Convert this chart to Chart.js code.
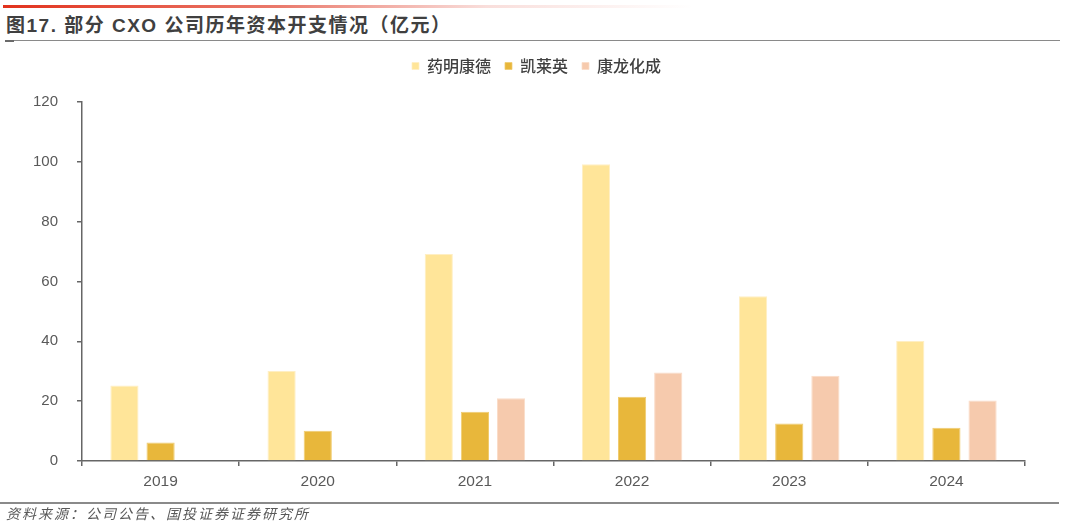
<!DOCTYPE html>
<html>
<head>
<meta charset="utf-8">
<script src="https://cdn.jsdelivr.net/npm/chart.js@4.4.1/dist/chart.umd.min.js"></script>
<style>
  html,body{margin:0;padding:0;background:#fff;}
  body{width:1067px;height:525px;position:relative;overflow:hidden;font-family:"Liberation Sans","Noto Sans CJK SC",sans-serif;}
  #redbar{position:absolute;left:3px;top:5px;width:690px;height:3px;background:linear-gradient(to right,#E2321D 0%,#EA7A6C 40%,rgba(245,200,195,0.6) 70%,rgba(255,255,255,0) 100%);}
  #title{position:absolute;left:6px;top:15px;font-size:19px;letter-spacing:1.5px;font-weight:bold;color:#404040;font-family:"Liberation Sans","Noto Sans CJK SC",sans-serif;white-space:nowrap;line-height:22px;}
  #titleline{position:absolute;left:5px;top:39.5px;width:1055px;height:1.5px;background:#8a8a8a;}
  #titlemark{position:absolute;left:5px;top:40px;width:9px;height:2px;background:#6a6a6a;}
  #footline{position:absolute;left:0px;top:502px;width:1059px;height:2px;background:#8a8a8a;}
  #foot{position:absolute;left:6px;top:503px;font-size:14px;letter-spacing:2px;font-style:italic;color:#595959;font-family:"Noto Sans CJK SC",sans-serif;white-space:nowrap;line-height:20px;}
  #wrap{position:absolute;left:0;top:0;width:1067px;height:525px;}
</style>
</head>
<body>
<div id="redbar"></div>
<div id="title">图17. 部分 CXO 公司历年资本开支情况（亿元）</div>
<div id="titleline"></div>
<div id="titlemark"></div>
<div id="wrap"><canvas id="c" width="1067" height="525"></canvas></div>
<div id="footline"></div>
<div id="foot">资料来源：公司公告、国投证券证券研究所</div>
<script>
const categories = ["2019", "2020", "2021", "2022", "2023", "2024"];
const seriesNames = ["药明康德", "凯莱英", "康龙化成"];
const wuxi = [25.2, 30.1, 69.2, 99.2, 55.1, 40.1];
const asymchem = [6.2, 10.1, 16.5, 21.5, 12.5, 11.1];
const pharmaron = [null, null, 21.0, 29.6, 28.5, 20.2];
const yTicks = [0, 20, 40, 60, 80, 100, 120];

const colors = ["#FFE599", "#E8B73B", "#F6CAAD"];
const edges = ["#FFEFC4", "#F0CC70", "#FADCC8"];

const axisColor = "#666666";
const tickFont = {family: "Liberation Sans, Arial, sans-serif", size: 15};

const legendGap = {
  id: "legendGap",
  beforeLayout(chart) {
    const lg = chart.legend;
    if (lg && !lg._gapPatched) {
      const f = lg.fit;
      lg.fit = function () { f.call(this); this.height += 18; };
      lg._gapPatched = true;
    }
  },
  afterLayout(chart) {
    const lg = chart.legend;
    if (lg) { lg.left += 24; lg.right += 24; }
  }
};

new Chart(document.getElementById("c"), {
  type: "bar",
  data: {
    labels: categories,
    datasets: [wuxi, asymchem, pharmaron].map((d, i) => ({
      label: seriesNames[i],
      data: d,
      backgroundColor: colors[i],
      borderColor: edges[i],
      borderWidth: {left: 1, right: 1, top: 1, bottom: 0},
      categoryPercentage: 0.69,
      barPercentage: 0.78
    }))
  },
  plugins: [legendGap],
  options: {
    responsive: false,
    animation: false,
    devicePixelRatio: 1,
    layout: {padding: {left: 0, right: 42, top: 44, bottom: 24}},
    plugins: {
      legend: {
        display: true,
        position: "top",
        align: "center",
        labels: {
          boxWidth: 7, boxHeight: 7,
          padding: 14,
          color: "#404040",
          font: {family: "Noto Sans CJK SC, sans-serif", size: 16, weight: "500"}
        }
      },
      tooltip: {enabled: false}
    },
    scales: {
      x: {
        grid: {display: true, drawOnChartArea: false, drawTicks: true, tickLength: 5, color: axisColor, lineWidth: 1.5, offset: true},
        border: {display: true, color: axisColor, width: 1.5},
        ticks: {color: "#595959", font: {family: "Liberation Sans, Arial, sans-serif", size: 15.5}, padding: 6},
        afterFit: (s) => { s.height = 40; }
      },
      y: {
        min: 0, max: 120,
        afterBuildTicks: (s) => { s.ticks = yTicks.map(v => ({value: v})); },
        grid: {display: true, drawOnChartArea: false, drawTicks: true, tickLength: 5, color: axisColor, lineWidth: 1.5},
        border: {display: true, color: axisColor, width: 1.5},
        ticks: {color: "#595959", font: tickFont, padding: 19},
        afterFit: (s) => { s.width = 82; }
      }
    }
  }
});
</script>
</body>
</html>
